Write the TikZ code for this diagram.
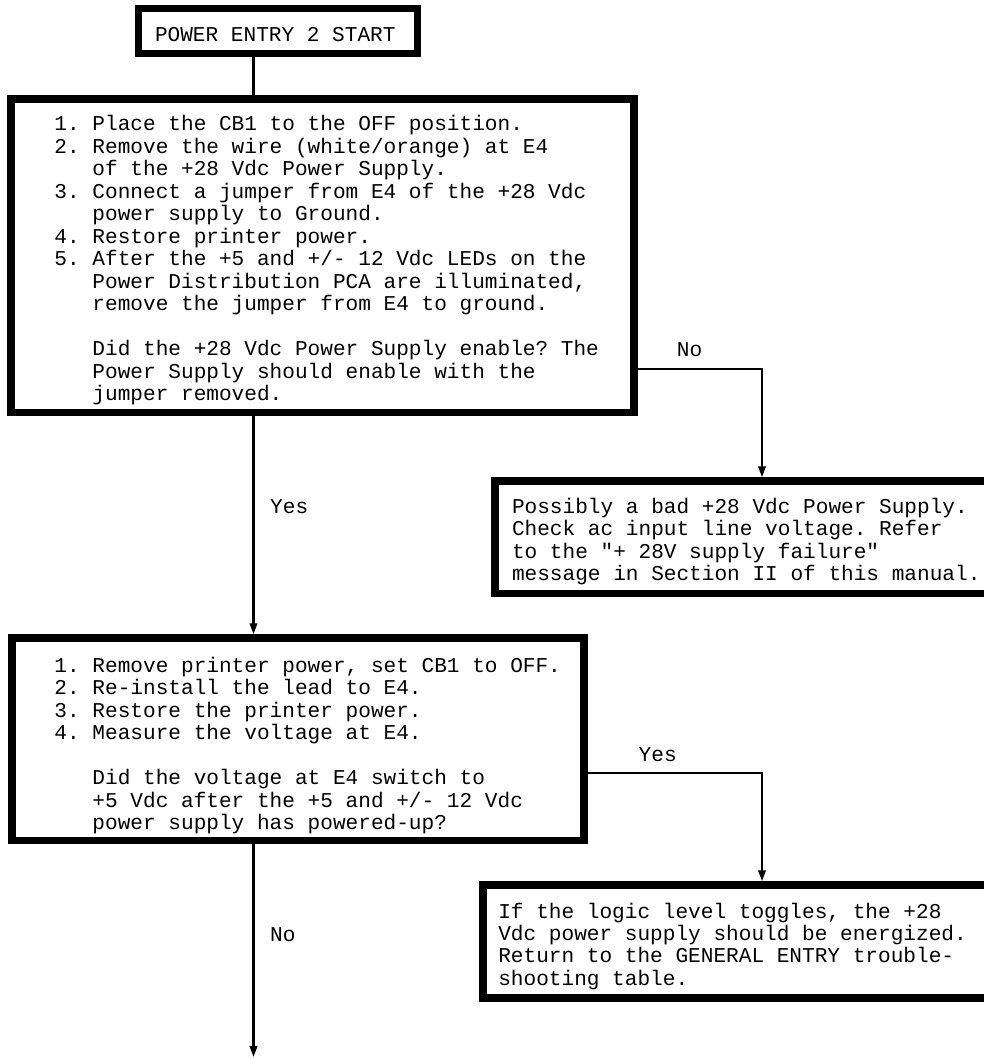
\documentclass[tikz,border=0pt]{standalone}
\usepackage{fontspec}
\newfontfamily\monofam{Liberation Mono}
\usetikzlibrary{arrows.meta}
\frenchspacing
\newcommand\tline[1]{\hbox{#1}}
\newcommand\indt{\phantom{000}}
\newcommand\txtbox[4]{\makebox[#1][l]{\hspace*{#2}\vtop{\baselineskip=#3\relax\lineskiplimit=-1000pt\lineskip=0pt\relax #4}}}
\tikzset{
  flowbox/.style={draw, line width=7.5pt, inner sep=0pt, outer sep=0pt, anchor=north west,
    font=\monofam\fontsize{21.1pt}{22.5pt}\selectfont},
  conn/.style={line width=2.2pt},
  arr/.style={conn, -{Triangle[length=11pt,width=7.5pt]}, shorten >=3.75pt},
  lbl/.style={font=\monofam\fontsize{21.1pt}{22.5pt}\selectfont, inner sep=0pt, anchor=base west}
}
\begin{document}
\begin{tikzpicture}[x=1pt,y=-1pt]
\useasboundingbox (0,0) rectangle (984,1059);

\node[flowbox, text height=33.4pt, text depth=11.6pt] (start) at (138.4,8.3)
  {\txtbox{279.1pt}{16.6pt}{22.5pt}{\tline{POWER ENTRY 2 START}}};

\node[flowbox, text height=32pt, text depth=281.5pt] (box1) at (11,99)
  {\txtbox{623pt}{43.5pt}{22.5pt}{%
   \tline{1. Place the CB1 to the OFF position.}%
   \tline{2. Remove the wire (white/orange) at E4}%
   \tline{\indt of the +28 Vdc Power Supply.}%
   \tline{3. Connect a jumper from E4 of the +28 Vdc}%
   \tline{\indt power supply to Ground.}%
   \tline{4. Restore printer power.}%
   \tline{5. After the +5 and +/- 12 Vdc LEDs on the}%
   \tline{\indt Power Distribution PCA are illuminated,}%
   \tline{\indt remove the jumper from E4 to ground.}%
   \tline{}%
   \tline{\indt Did the +28 Vdc Power Supply enable? The}%
   \tline{\indt Power Supply should enable with the}%
   \tline{\indt jumper removed.}}};

\node[flowbox, text height=32pt, text depth=80.5pt] (box3) at (495,481)
  {\txtbox{510pt}{17pt}{22.6pt}{%
   \tline{Possibly a bad +28 Vdc Power Supply.}%
   \tline{Check ac input line voltage. Refer}%
   \tline{to the "+ 28V supply failure"}%
   \tline{message in Section II of this manual.}}};

\node[flowbox, text height=34pt, text depth=168.5pt] (box2) at (12,638)
  {\txtbox{572pt}{42.5pt}{22.5pt}{%
   \tline{1. Remove printer power, set CB1 to OFF.}%
   \tline{2. Re-install the lead to E4.}%
   \tline{3. Restore the printer power.}%
   \tline{4. Measure the voltage at E4.}%
   \tline{}%
   \tline{\indt Did the voltage at E4 switch to}%
   \tline{\indt +5 Vdc after the +5 and +/- 12 Vdc}%
   \tline{\indt power supply has powered-up?}}};

\node[flowbox, text height=33pt, text depth=80pt] (box3b) at (483,885)
  {\txtbox{522pt}{15.3pt}{22.4pt}{%
   \tline{If the logic level toggles, the +28}%
   \tline{Vdc power supply should be energized.}%
   \tline{Return to the GENERAL ENTRY trouble-}%
   \tline{shooting table.}}};

\coordinate (trunk) at (253.5,0);
\coordinate (noturn) at (762,368.8);
\coordinate (yesturn) at (762,773);
\coordinate (end) at (253.5,1057);

\draw[conn] (start.south -| trunk) -- (box1.north -| trunk);
\draw[arr] (box1.south -| trunk) -- (box2.north -| trunk);
\draw[arr] (box1.east |- noturn) -| (box3.north -| noturn);
\draw[arr] (box2.east |- yesturn) -| (box3b.north -| yesturn);
\draw[arr, shorten >=0pt] (box2.south -| trunk) -- (end);

\node[lbl] (yes1) at (270,513.3) {Yes};
\node[lbl] (no1) at (676.7,356) {No};
\node[lbl] (yes2) at (638.5,761.7) {Yes};
\node[lbl] (no2) at (270,941) {No};
\end{tikzpicture}
\end{document}
